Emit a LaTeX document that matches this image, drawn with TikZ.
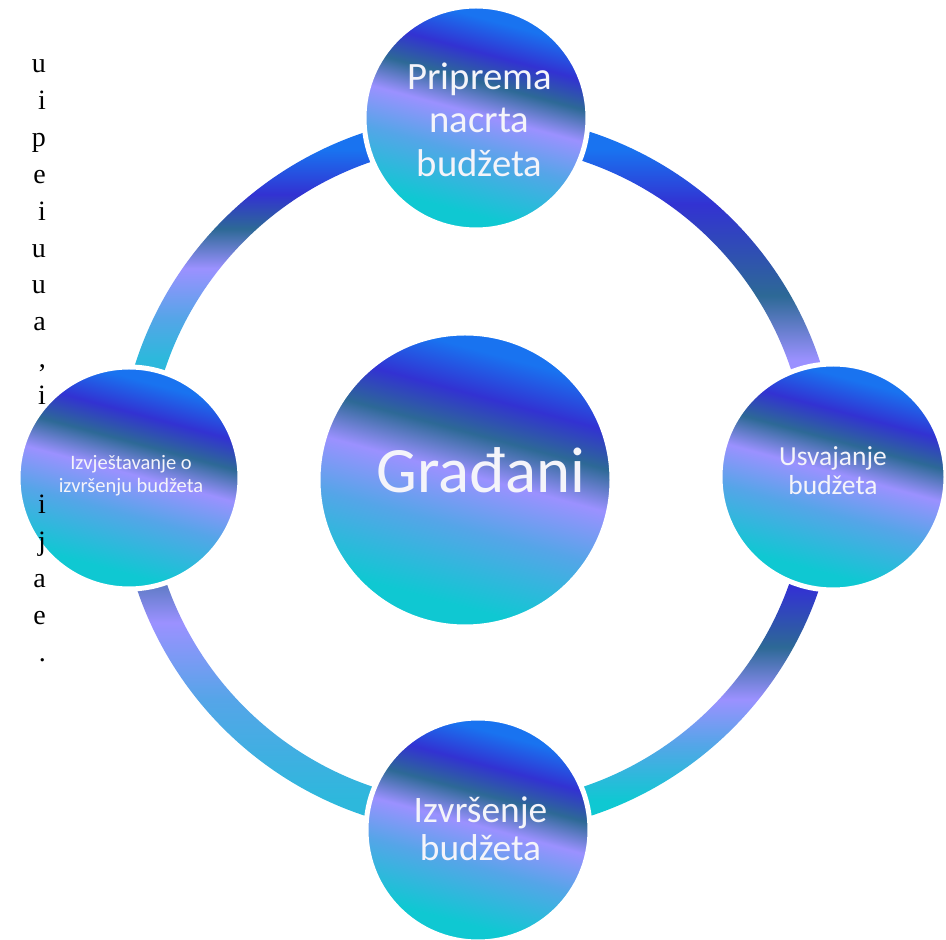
\documentclass[tikz,border=0pt]{standalone}
\usepackage{fontspec}
\setmainfont{Carlito}
\newfontfamily\tnr{Liberation Serif}
\definecolor{cBlue}{HTML}{1973F0}
\definecolor{cIndigo}{HTML}{3232D2}
\definecolor{cTeal}{HTML}{2D6996}
\definecolor{cLav}{HTML}{9B91FF}
\definecolor{cLight}{HTML}{55A5E8}
\definecolor{cCyan}{HTML}{0FC8D2}
\definecolor{cCyanL}{HTML}{2DB8DC}
\definecolor{cText}{HTML}{F4F4FA}
\pgfdeclareverticalshading{circshade}{100bp}{color(0bp)=(cCyan); color(29bp)=(cCyan); color(42bp)=(cLight); color(51bp)=(cLav); color(58bp)=(cTeal); color(64.5bp)=(cIndigo); color(72bp)=(cBlue); color(100bp)=(cBlue)}
\pgfdeclareverticalshading{arcTR}{100bp}{color(0bp)=(cLav); color(28.5bp)=(cLav); color(41.5bp)=(cTeal); color(60bp)=(cIndigo); color(71bp)=(cBlue); color(100bp)=(cBlue)}
\pgfdeclareverticalshading{arcBR}{100bp}{color(0bp)=(cCyan); color(28.5bp)=(cCyan); color(40bp)=(cLight); color(49bp)=(cLav); color(59.5bp)=(cTeal); color(71.5bp)=(cIndigo); color(100bp)=(cIndigo)}
\pgfdeclareverticalshading{arcBL}{100bp}{color(0bp)=(cCyanL); color(28.5bp)=(cCyanL); color(49bp)=(cLight); color(64.5bp)=(cLav); color(73bp)=(cTeal!60!cLav); color(100bp)=(cTeal!60!cLav)}
\pgfdeclareverticalshading{arcTL}{100bp}{color(0bp)=(cCyanL); color(29bp)=(cCyanL); color(37bp)=(cLight); color(47bp)=(cLav); color(55bp)=(cTeal); color(62bp)=(cIndigo); color(71bp)=(cBlue); color(100bp)=(cBlue)}
\tikzset{
  bubble/.style={circle, inner sep=0pt, shade, shading=circshade, shading angle=-15, draw=white, line width=5pt},
  lbl/.style={anchor=base, text=cText, inner sep=0pt},
  frag/.style={anchor=base east, inner sep=0pt, font=\tnr\fontsize{28}{32}\selectfont}
}
\begin{document}
\begin{tikzpicture}[x=1pt,y=1pt]
\useasboundingbox (0,0) rectangle (946,940);
% ring
\coordinate (ring) at (478,466);
\shade[shading=arcTR] ([shift={(73:360pt)}]ring) arc[start angle=73,end angle=17,radius=360pt] -- ([shift={(17:330pt)}]ring) arc[start angle=17,end angle=73,radius=330pt] -- cycle;
\shade[shading=arcBR] ([shift={(-17:360pt)}]ring) arc[start angle=-17,end angle=-73,radius=360pt] -- ([shift={(-73:330pt)}]ring) arc[start angle=-73,end angle=-17,radius=330pt] -- cycle;
\shade[shading=arcBL] ([shift={(197:360pt)}]ring) arc[start angle=197,end angle=253,radius=360pt] -- ([shift={(253:330pt)}]ring) arc[start angle=253,end angle=197,radius=330pt] -- cycle;
\shade[shading=arcTL] ([shift={(107:360pt)}]ring) arc[start angle=107,end angle=163,radius=360pt] -- ([shift={(163:330pt)}]ring) arc[start angle=163,end angle=107,radius=330pt] -- cycle;
% circles
\node[bubble, minimum size=224pt] (top) at (476,822) {};
\node[bubble, minimum size=226pt] (right) at (833,463) {};
\node[bubble, minimum size=224pt] (bottom) at (478,110) {};
\node[bubble, minimum size=222pt] (left) at (129,462) {};
\node[bubble, minimum size=294pt] (center) at (465,460) {};
% labels
\node[lbl, font=\fontsize{38.7}{44}\selectfont] (t1) at (479.5,850) {Priprema};
\node[lbl, font=\fontsize{38.7}{44}\selectfont] (t2) at (479.5,807) {nacrta};
\node[lbl, font=\fontsize{38.7}{44}\selectfont] (t3) at (479.5,763) {budžeta};
\node[lbl, font=\fontsize{64.7}{70}\selectfont] (c1) at (481,447) {Građani};
\node[lbl, font=\fontsize{20.5}{23}\selectfont] (l1) at (131,470) {Izvještavanje o};
\node[lbl, font=\fontsize{20.5}{23}\selectfont] (l2) at (131,447) {izvršenju budžeta};
\node[lbl, font=\fontsize{27.5}{30}\selectfont] (r1) at (833,474) {Usvajanje};
\node[lbl, font=\fontsize{27.5}{30}\selectfont] (r2) at (833,445) {budžeta};
\node[lbl, font=\fontsize{37.4}{40}\selectfont] (b1) at (480.5,117) {Izvršenje};
\node[lbl, font=\fontsize{37.4}{40}\selectfont] (b2) at (480.5,79) {budžeta};
% text fragments at left margin
\node[frag] (f1) at (46,867) {u};
\node[frag] (f2) at (46,830) {i};
\node[frag] (f3) at (46,793) {p};
\node[frag] (f4) at (46,756) {e};
\node[frag] (f5) at (46,719) {i};
\node[frag] (f6) at (46,682) {u};
\node[frag] (f7) at (46,646) {u};
\node[frag] (f8) at (46,609) {a};
\node[frag] (f9) at (46,572) {,};
\node[frag] (f10) at (46,535) {i};
\node[frag] (f11) at (46,426) {i};
\node[frag] (f12) at (46,389) {j};
\node[frag] (f13) at (46,352) {a};
\node[frag] (f14) at (46,315) {e};
\node[frag] (f15) at (46,278) {.};
\end{tikzpicture}
\end{document}
